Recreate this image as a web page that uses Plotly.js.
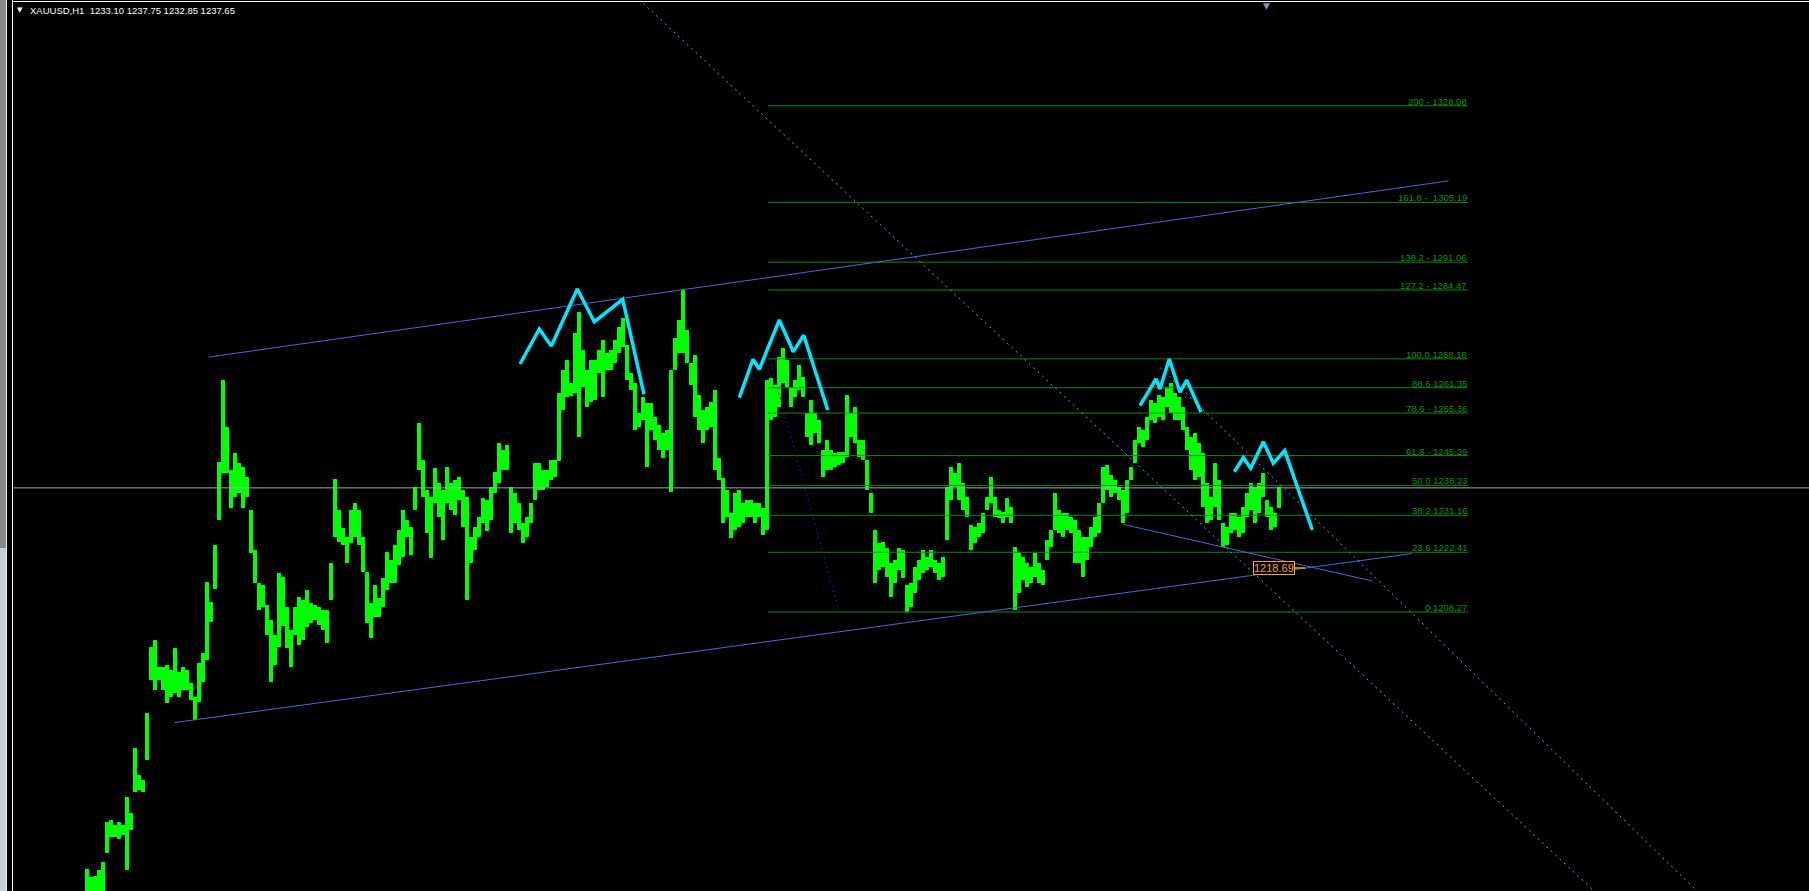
<!DOCTYPE html>
<html><head><meta charset="utf-8">
<script src="https://cdn.plot.ly/plotly-3.0.1.min.js"></script>
<style>
html,body{margin:0;padding:0;background:#000;width:1809px;height:891px;overflow:hidden;}
#chart{position:absolute;left:0;top:0;width:1809px;height:891px;}
.fr{position:absolute;}
</style></head><body>
<div id="chart"></div>
<div class="fr" style="left:0;top:0;width:6px;height:548px;background:#8a8a8a"></div>
<div class="fr" style="left:0;top:548px;width:6px;height:343px;background:#c4d0dc"></div>
<div class="fr" style="left:6px;top:0;width:1px;height:891px;background:#e8e8e8"></div>
<div class="fr" style="left:12px;top:0;width:1px;height:891px;background:#ffffff"></div>
<div class="fr" style="left:12px;top:1px;width:1797px;height:1px;background:#ffffff"></div>
<script>
// ---- data ----
const symbol = "XAUUSD,H1";
const headerValues = ["1233.10", "1237.75", "1232.85", "1237.65"];
const lastClose = 1237.65;

const highs = [
1147.5,1145.6,1145.9,1147.2,1149.1,1158.6,1159.1,1157.9,1158.6,1157.9,
1164.5,1160.7,1176.1,1169.7,1168.5,1184.4,1200.0,1201.7,1195.3,1195.3,
1195.7,1194.6,1199.8,1194.1,1195.3,1194.6,1191.5,1188.2,1196.2,1198.6,
1215.4,1210.6,1224.1,1243.8,1263.2,1252.1,1241.9,1245.9,1243.5,1242.6,
1240.2,1232.4,1223.0,1215.1,1214.7,1209.9,1206.4,1202.8,1217.5,1216.6,
1209.5,1204.0,1209.5,1211.8,1211.1,1213.5,1210.4,1209.9,1209.5,1208.8,
1208.8,1219.9,1239.8,1232.4,1228.2,1226.0,1232.4,1234.1,1232.4,1226.0,
1217.7,1210.4,1214.7,1211.6,1216.3,1222.5,1220.6,1224.1,1227.7,1232.4,
1230.1,1228.4,1237.9,1253.0,1244.3,1237.2,1235.5,1242.4,1238.8,1237.2,
1242.6,1238.8,1239.5,1240.2,1237.2,1235.5,1226.0,1228.4,1230.8,1235.3,
1234.8,1237.9,1241.4,1248.3,1246.6,1247.8,1237.9,1236.4,1234.1,1229.3,
1230.8,1234.1,1243.5,1243.5,1241.9,1241.9,1244.3,1244.3,1260.1,1265.5,
1267.9,1262.5,1274.3,1279.3,1270.3,1265.5,1267.9,1267.9,1270.3,1272.6,
1269.6,1270.3,1272.6,1275.7,1277.9,1271.5,1264.8,1262.5,1255.4,1259.2,
1257.7,1257.7,1254.4,1252.5,1250.6,1251.3,1265.5,1273.1,1277.4,1284.5,
1275.0,1267.2,1269.1,1259.6,1256.1,1256.8,1258.0,1260.8,1244.7,1240.0,
1237.2,1231.7,1236.4,1237.2,1234.1,1234.8,1234.8,1234.1,1234.1,1232.9,
1263.2,1263.7,1262.0,1268.6,1270.8,1267.9,1261.5,1263.2,1266.7,1263.9,
1255.4,1258.4,1255.4,1253.7,1246.6,1249.0,1246.6,1245.9,1246.1,1246.1,
1259.6,1255.4,1256.8,1249.0,1249.0,1244.3,1236.4,1227.7,1224.6,1224.8,
1223.4,1219.9,1220.6,1223.4,1223.0,1214.7,1215.1,1218.9,1220.6,1223.0,
1221.3,1223.0,1220.6,1219.9,1221.3,1237.9,1242.6,1241.2,1243.5,1238.8,
1235.5,1228.9,1228.4,1229.3,1231.7,1235.5,1240.2,1235.5,1232.4,1231.9,
1235.3,1233.1,1223.7,1222.2,1221.3,1219.9,1218.9,1222.2,1219.9,1218.2,
1225.3,1227.7,1236.4,1232.4,1231.7,1231.7,1230.8,1230.1,1227.7,1226.0,
1226.0,1228.4,1230.8,1234.1,1242.6,1243.1,1240.7,1239.5,1237.9,1237.2,
1239.5,1242.6,1249.0,1252.1,1251.3,1254.4,1258.4,1257.7,1259.6,1259.2,
1261.5,1262.5,1260.1,1259.2,1256.8,1252.1,1249.7,1250.6,1248.3,1245.9,
1238.8,1235.5,1243.5,1239.5,1229.3,1228.4,1231.7,1231.7,1230.8,1233.1,
1236.4,1238.8,1237.9,1238.8,1241.2,1234.8,1233.1,1231.7,1237.75
];
const lows = [
1139.0,1139.0,1139.0,1140.0,1142.0,1151.3,1155.0,1155.0,1154.6,1155.5,
1147.2,1156.7,1165.7,1166.2,1165.7,1173.3,1192.2,1189.8,1192.2,1189.8,
1186.7,1188.2,1189.1,1188.2,1189.8,1189.8,1187.5,1182.7,1187.0,1191.7,
1197.0,1205.9,1213.8,1230.1,1241.2,1241.2,1232.9,1235.5,1236.4,1232.9,
1235.5,1222.2,1215.1,1208.8,1209.5,1202.8,1191.7,1195.7,1200.0,1205.0,
1199.8,1195.3,1202.8,1200.5,1201.7,1204.7,1205.7,1206.4,1205.2,1204.0,
1200.9,1211.0,1226.0,1224.8,1224.1,1219.9,1224.6,1226.0,1224.1,1217.7,
1205.7,1202.1,1207.1,1207.1,1209.5,1213.5,1215.1,1215.1,1219.4,1221.3,
1226.0,1221.8,1232.4,1241.9,1235.5,1227.0,1221.1,1234.1,1230.8,1225.3,
1234.1,1232.4,1231.2,1234.8,1228.4,1211.1,1219.9,1223.0,1226.0,1229.3,
1227.5,1230.1,1236.4,1238.8,1241.9,1241.9,1227.0,1229.3,1227.7,1224.6,
1226.0,1229.3,1234.8,1237.2,1237.2,1237.9,1239.5,1240.2,1244.0,1256.1,
1259.2,1259.5,1260.1,1249.7,1261.5,1256.8,1258.0,1258.4,1264.8,1259.2,
1265.5,1265.5,1267.2,1269.6,1271.0,1263.2,1260.8,1251.3,1252.1,1253.7,
1242.6,1251.3,1249.0,1246.6,1244.7,1246.6,1236.7,1265.5,1269.6,1269.6,
1267.2,1262.0,1254.4,1251.3,1248.3,1251.3,1252.1,1241.9,1239.5,1229.3,
1230.8,1225.8,1227.7,1228.4,1229.3,1230.8,1230.8,1229.3,1230.8,1226.5,
1227.7,1253.7,1254.4,1256.8,1262.5,1261.5,1256.8,1259.2,1260.8,1259.2,
1249.7,1247.8,1250.6,1248.3,1240.2,1241.9,1241.9,1242.6,1243.1,1243.5,
1245.0,1249.7,1248.3,1245.0,1244.3,1237.2,1231.7,1215.1,1218.2,1218.9,
1216.6,1211.8,1215.1,1218.2,1216.3,1208.3,1209.5,1212.8,1215.9,1217.5,
1218.2,1218.9,1217.5,1215.9,1216.6,1225.3,1234.8,1237.9,1234.8,1232.4,
1230.8,1223.0,1224.6,1226.0,1227.0,1232.4,1234.1,1230.8,1230.5,1229.3,
1230.8,1229.3,1208.8,1212.8,1215.9,1214.2,1215.1,1216.6,1215.1,1214.7,
1220.6,1223.7,1227.7,1227.0,1226.0,1227.7,1227.0,1219.9,1219.9,1216.6,
1220.6,1223.7,1226.0,1227.0,1234.1,1237.2,1235.5,1236.4,1234.8,1229.3,
1231.7,1239.5,1243.5,1248.3,1247.3,1249.0,1253.7,1253.0,1254.4,1253.7,
1256.8,1255.4,1253.7,1253.7,1251.3,1246.6,1241.9,1239.5,1240.2,1233.1,
1229.3,1230.1,1233.1,1230.1,1223.7,1224.1,1227.0,1227.7,1226.0,1227.0,
1230.8,1232.4,1229.3,1231.7,1235.5,1230.8,1227.7,1228.4,1232.85
];

// Fibonacci retracement object
const fibLabels = ["200 - 1328.08","161.8 -\u00a0 1305.19","138.2 - 1291.06","127.2 - 1284.47",
  "100.0 1268.18","88.6 1261.35","78.6 - 1255.36","61.8 - 1245.29","50.0 1238.23",
  "38.2 1231.16","23.6 1222.41","0 1208.27"];
const fibPrices = [1328.08,1305.19,1291.06,1284.47,1268.18,1261.35,1255.36,1245.29,1238.23,1231.16,1222.41,1208.27];
const fibBarStart = 170.25, fibBarEnd = 345.25;
const fibTrendX = [170.58, 188.08];
const fibTrendY = [1268.18, 1208.27];

// trend channel lines (bar index, price)
const upperX = [30.45, 340.4],  upperY = [1268.6, 1310.3];
const lowerX = [21.8, 331.25],  lowerY = [1182.1, 1222.1];
const shortX = [259.1, 321.4],  shortY = [1229.0, 1215.6];
// dotted trend rays
const ray1X = [139, 380],     ray1Y = [1352.36, 1139.4];
const ray2X = [268.25, 410],  ray2Y = [1266.1, 1135.3];

// hand-drawn head & shoulders polylines
const hs1X = [108.25,113.08,116.08,122.58,126.83,133.93,139.25];
const hs1Y = [1266.96,1275.25,1271.22,1284.71,1276.97,1282.27,1259.79];
const hs2X = [163.08,166.5,168.08,173.08,176.58,179.18,185.18];
const hs2Y = [1258.99,1268.08,1265.71,1277.38,1269.87,1273.75,1256.08];
const hs3X = [263.25,267.25,268.25,270.58,273.25,274.93,278.5];
const hs3Y = [1257.1,1263.41,1261.05,1268.15,1260.27,1263.18,1255.6];
const hs4X = [286.83,289.08,290.93,294.08,296.58,299.43,306.33];
const hs4Y = [1241.48,1244.79,1242.28,1248.58,1243.47,1246.45,1227.68];

// price label object
const priceLabel = 1218.69;
const priceLabelBar = 296.65;
const priceLabelTailX = [302.0, 304.5];

// ---- build ----
const idx = highs.map((_, i) => i);
const traces = [];
traces.push({
  type: 'bar', x: idx, base: lows, y: highs.map((h, i) => h - lows[i]),
  width: 1.0, marker: {color: '#00ff00', line: {width: 0}}, hoverinfo: 'skip', showlegend: false
});
function line(x, y, color, width, dash) {
  traces.push({type: 'scatter', mode: 'lines', x: x, y: y, hoverinfo: 'skip', showlegend: false,
    line: {color: color, width: width, dash: dash || 'solid'}});
}
// fib levels
const fx = [], fy = [];
fibPrices.forEach(p => { fx.push(fibBarStart, fibBarEnd, null); fy.push(p, p, null); });
line(fx, fy, '#0a8c0a', 1);
line(fibTrendX, fibTrendY, '#1414e6', 1, '2px,3px');
line(upperX, upperY, '#4169e1', 1);
line(lowerX, lowerY, '#4169e1', 1);
line(shortX, shortY, '#4169e1', 1);
line(ray1X, ray1Y, '#1ec3ff', 1, '2px,4px');
line(ray2X, ray2Y, '#1ec3ff', 1, '2px,4px');
[[hs1X,hs1Y],[hs2X,hs2Y],[hs3X,hs3Y],[hs4X,hs4Y]].forEach(h => line(h[0], h[1], '#00e6ff', 3.5));
line(priceLabelTailX, [priceLabel, priceLabel], '#ffa500', 1.5);

const annotations = fibLabels.map((t, k) => ({
  x: fibBarEnd, y: fibPrices[k], xref: 'x', yref: 'y', text: t, showarrow: false,
  xanchor: 'right', yanchor: 'bottom', yshift: -2, borderpad: 0,
  font: {family: 'Liberation Sans, Arial, sans-serif', size: 9.5, color: '#0c960c'}
}));
annotations.push({
  x: priceLabelBar, y: priceLabel, xref: 'x', yref: 'y', text: priceLabel.toFixed(2), showarrow: false,
  xanchor: 'center', yanchor: 'middle', bgcolor: '#000', bordercolor: '#ffa500', borderwidth: 1, borderpad: 0,
  font: {family: 'Liberation Sans, Arial, sans-serif', size: 11, color: '#ffa500'}
});
annotations.push({
  x: 0.00835, y: 1, xref: 'paper', yref: 'paper', xanchor: 'left', yanchor: 'top', showarrow: false,
  text: symbol + '\u00a0 ' + headerValues.join(' '), borderpad: 1,
  font: {family: 'Liberation Sans, Arial, sans-serif', size: 9.5, color: '#ffffff'}
});
annotations.push({
  x: 0.00362, y: 1, xref: 'paper', yref: 'paper', xanchor: 'center', yanchor: 'top', showarrow: false,
  text: '\u25BC', borderpad: 2, font: {family: 'DejaVu Sans', size: 7, color: '#ffffff'}
});
annotations.push({
  x: 0.6982, y: 1, xref: 'paper', yref: 'paper', xanchor: 'center', yanchor: 'top', showarrow: false,
  text: '\u25BC', borderpad: 0, yshift: 3, font: {family: 'DejaVu Sans', size: 9, color: '#8596a8'}
});

const layout = {
  width: 1809, height: 891,
  margin: {l: 13, r: 0, t: 3, b: 0, pad: 0},
  paper_bgcolor: 'rgba(0,0,0,0)', plot_bgcolor: '#000',
  showlegend: false, barmode: 'overlay', bargap: 0,
  xaxis: {range: [-18.5, 430.5], visible: false, fixedrange: true},
  yaxis: {range: [1142.25, 1352.39], visible: false, fixedrange: true},
  shapes: [{type: 'line', xref: 'paper', x0: 0, x1: 1, yref: 'y', y0: lastClose, y1: lastClose,
            line: {color: '#a3abb5', width: 1}, layer: 'above'}],
  annotations: annotations
};
Plotly.newPlot('chart', traces, layout, {staticPlot: true, displayModeBar: false});
</script>
</body></html>
